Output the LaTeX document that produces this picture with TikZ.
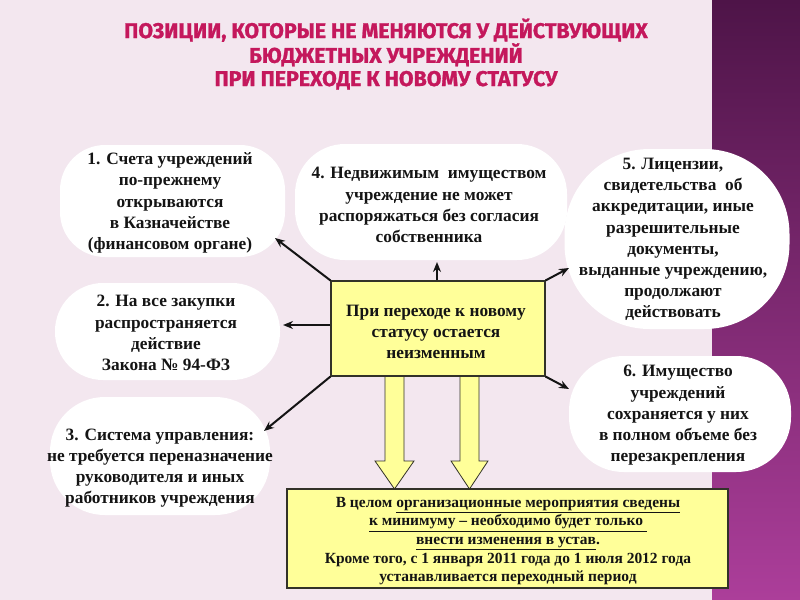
\documentclass[tikz,border=0pt]{standalone}
\usepackage{fontspec}
\setmainfont{Liberation Serif}
\newfontfamily\titlefont{Fira Sans}[BoldFeatures={FakeBold=1.2}]
\usetikzlibrary{arrows.meta,calc}
\definecolor{bg}{RGB}{243,231,239}
\definecolor{purpletop}{RGB}{78,20,72}
\definecolor{purplebot}{RGB}{172,62,154}
\definecolor{titlecol}{RGB}{196,24,92}
\definecolor{ink}{RGB}{20,20,20}
\definecolor{boxyellow}{RGB}{255,255,153}
\definecolor{boxline}{RGB}{50,50,40}
\begin{document}
\begin{tikzpicture}[x=0.75pt,y=-0.75pt,
  bubble/.style={fill=white, draw=none, rounded corners=#1, inner sep=0pt},
  txt/.style={align=center, text=ink, font=\bfseries\fontsize{13}{15.9}\selectfont, inner sep=0pt},
  smalltxt/.style={align=center, text=ink, font=\bfseries\fontsize{11.6}{14}\selectfont, inner sep=0pt},
  arr/.style={draw=ink, line width=1.5pt, -{Stealth[length=7.5pt,width=6pt]}},
  ybox/.style={fill=boxyellow, draw=boxline, line width=0.8pt, inner sep=0pt},
  barrow/.style={fill=boxyellow, draw=boxline, line width=0.6pt, line join=miter}]
\useasboundingbox (0,0) rectangle (800,600);
\fill[bg] (0,0) rectangle (800,600);
\shade[top color=purpletop, bottom color=purplebot] (712,0) rectangle (800,600);

% title
\node[align=center, text=titlecol, font=\titlefont\bfseries\fontsize{16}{17.4}\selectfont, inner sep=0pt] (title) at (386,54)
  {ПОЗИЦИИ, КОТОРЫЕ НЕ МЕНЯЮТСЯ У ДЕЙСТВУЮЩИХ\\БЮДЖЕТНЫХ УЧРЕЖДЕНИЙ\\ПРИ ПЕРЕХОДЕ К НОВОМУ СТАТУСУ};

% bubbles
\node[bubble=33.75pt, minimum width=168.75pt, minimum height=84pt] (e1) at (172.5,201) {};
\node[bubble=37.5pt, minimum width=204pt, minimum height=87pt] (e4) at (431,202) {};
\node[bubble=63.75pt, minimum width=168.75pt, minimum height=135pt] (e5) at (677,239) {};
\node[bubble=36pt, minimum width=168.75pt, minimum height=72.75pt] (e2) at (167.5,331.5) {};
\node[bubble=41pt, minimum width=165pt, minimum height=88.5pt] (e3) at (160,456) {};
\node[bubble=41pt, minimum width=166.5pt, minimum height=87pt] (e6) at (680,414) {};

\node[txt] (t1) at (170,203) {1. Счета учреждений\\по-прежнему\\открываются\\в Казначействе\\(финансовом органе)};
\node[txt] (t4) at (429,205) {4. Недвижимым\ \ имуществом\\учреждение не может\\распоряжаться без согласия\\собственника};
\node[txt] (t5) at (673,239.5) {5. Лицензии,\\свидетельства\ \ об\\аккредитации, иные\\разрешительные\\документы,\\выданные учреждению,\\продолжают\\действовать};
\node[txt] (t2) at (166,333) {2. На все закупки\\распространяется\\действие\\Закона № 94-ФЗ};
\node[txt] (t3) at (160,468) {3. Система управления:\\не требуется переназначение\\руководителя и иных\\работников учреждения};
\node[txt] (t6) at (678,415.5) {6. Имущество\\учреждений\\сохраняется у них\\в полном объеме без\\перезакрепления};

% block arrows
\draw[barrow] (385,376) -- (385,461) -- (375,461) -- (394.5,489) -- (414,461) -- (404,461) -- (404,376) -- cycle;
\draw[barrow] (460,376) -- (460,461) -- (451,461) -- (469.5,489) -- (488,461) -- (479,461) -- (479,376) -- cycle;

% central and bottom boxes
\node[ybox, minimum width=160.5pt, minimum height=71.25pt] (c) at (438,328.5) {};
\node[txt] (ct) at (436,332) {При переходе к новому\\статусу остается\\неизменным};
\node[ybox, minimum width=330.75pt, minimum height=74.25pt] (b) at (507.5,538.5) {};
\node[smalltxt] (bt) at (508,541) {В целом \underline{организационные мероприятия сведены}\\\underline{к минимуму – необходимо будет только }\\\underline{внести изменения в устав}.\\Кроме того, с 1 января 2011 года до 1 июля 2012 года\\устанавливается переходный период};

% connectors
\coordinate (p1) at (275,238);
\coordinate (p2) at (283,325);
\coordinate (p3) at (264,431);
\coordinate (p4) at (437,262);
\coordinate (p5) at (569,268);
\coordinate (p6) at (569,389);
\draw[arr] (c.north west) -- (p1);
\draw[arr] (c.west |- p2) -- (p2);
\draw[arr] (c.south west) -- (p3);
\draw[arr] (c.north -| p4) -- (p4);
\draw[arr] (c.north east) -- (p5);
\draw[arr] (c.south east) -- (p6);
\end{tikzpicture}
\end{document}
